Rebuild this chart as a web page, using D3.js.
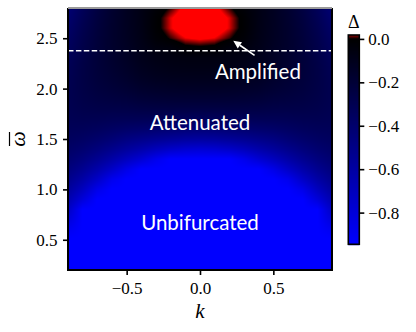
<!DOCTYPE html>
<html><head><meta charset="utf-8">
<script src="https://cdn.jsdelivr.net/npm/d3@7"></script>
<style>body{margin:0;background:#fff}svg{display:block}</style>
</head><body>
<svg id="chart" width="416" height="332"></svg>
<script>
// ---------------- data ----------------
const kValues = [-0.9,-0.8,-0.7,-0.6,-0.5,-0.4,-0.3,-0.2,-0.1,0,0.1,0.2,0.3,0.4,0.5,0.6,0.7,0.8,0.9];
const omegaValues = [0.2,0.3,0.4,0.5,0.6,0.7,0.8,0.9,1.0,1.1,1.2,1.3,1.4,1.5,1.6,1.7,1.8,1.9,2.0,2.1,2.2,2.3,2.4,2.5,2.6,2.7,2.8];
// Delta values, one row per omega (ascending), one column per k
const deltaRows = [
[-0.95,-0.95,-0.95,-0.95,-0.95,-0.95,-0.95,-0.95,-0.95,-0.95,-0.95,-0.95,-0.95,-0.95,-0.95,-0.95,-0.95,-0.95,-0.95],
[-0.95,-0.95,-0.95,-0.95,-0.95,-0.95,-0.95,-0.95,-0.95,-0.95,-0.95,-0.95,-0.95,-0.95,-0.95,-0.95,-0.95,-0.95,-0.95],
[-0.95,-0.95,-0.95,-0.95,-0.95,-0.95,-0.95,-0.95,-0.95,-0.95,-0.95,-0.95,-0.95,-0.95,-0.95,-0.95,-0.95,-0.95,-0.95],
[-0.95,-0.95,-0.95,-0.95,-0.95,-0.95,-0.95,-0.95,-0.95,-0.95,-0.95,-0.95,-0.95,-0.95,-0.95,-0.95,-0.95,-0.95,-0.95],
[-0.893,-0.95,-0.95,-0.95,-0.95,-0.95,-0.95,-0.95,-0.95,-0.95,-0.95,-0.95,-0.95,-0.95,-0.95,-0.95,-0.95,-0.95,-0.893],
[-0.808,-0.95,-0.95,-0.95,-0.95,-0.95,-0.95,-0.95,-0.95,-0.95,-0.95,-0.95,-0.95,-0.95,-0.95,-0.95,-0.95,-0.95,-0.808],
[-0.726,-0.95,-0.95,-0.95,-0.95,-0.95,-0.95,-0.95,-0.95,-0.95,-0.95,-0.95,-0.95,-0.95,-0.95,-0.95,-0.95,-0.95,-0.726],
[-0.648,-0.811,-0.95,-0.95,-0.95,-0.95,-0.95,-0.95,-0.95,-0.95,-0.95,-0.95,-0.95,-0.95,-0.95,-0.95,-0.95,-0.811,-0.648],
[-0.576,-0.706,-0.866,-0.95,-0.95,-0.95,-0.95,-0.95,-0.95,-0.95,-0.95,-0.95,-0.95,-0.95,-0.95,-0.95,-0.866,-0.706,-0.576],
[-0.513,-0.614,-0.738,-0.883,-0.95,-0.95,-0.95,-0.95,-0.95,-0.95,-0.95,-0.95,-0.95,-0.95,-0.95,-0.883,-0.738,-0.614,-0.513],
[-0.458,-0.534,-0.628,-0.738,-0.858,-0.95,-0.95,-0.95,-0.95,-0.95,-0.95,-0.95,-0.95,-0.95,-0.858,-0.738,-0.628,-0.534,-0.458],
[-0.412,-0.466,-0.535,-0.616,-0.704,-0.784,-0.88,-0.95,-0.95,-0.95,-0.95,-0.95,-0.88,-0.784,-0.704,-0.616,-0.535,-0.466,-0.412],
[-0.375,-0.41,-0.457,-0.514,-0.575,-0.63,-0.69,-0.74,-0.772,-0.784,-0.772,-0.74,-0.69,-0.63,-0.575,-0.514,-0.457,-0.41,-0.375],
[-0.345,-0.364,-0.394,-0.431,-0.475,-0.505,-0.535,-0.56,-0.58,-0.587,-0.58,-0.56,-0.535,-0.505,-0.475,-0.431,-0.394,-0.364,-0.345],
[-0.324,-0.328,-0.342,-0.364,-0.385,-0.398,-0.41,-0.422,-0.434,-0.439,-0.434,-0.422,-0.41,-0.398,-0.385,-0.364,-0.342,-0.328,-0.324],
[-0.308,-0.3,-0.302,-0.311,-0.315,-0.315,-0.32,-0.326,-0.332,-0.335,-0.332,-0.326,-0.32,-0.315,-0.315,-0.311,-0.302,-0.3,-0.308],
[-0.299,-0.28,-0.27,-0.268,-0.265,-0.255,-0.25,-0.248,-0.249,-0.25,-0.249,-0.248,-0.25,-0.255,-0.265,-0.268,-0.27,-0.28,-0.299],
[-0.296,-0.267,-0.247,-0.235,-0.225,-0.205,-0.196,-0.19,-0.188,-0.188,-0.188,-0.19,-0.196,-0.205,-0.225,-0.235,-0.247,-0.267,-0.296],
[-0.297,-0.259,-0.23,-0.21,-0.19,-0.165,-0.152,-0.144,-0.141,-0.14,-0.141,-0.144,-0.152,-0.165,-0.19,-0.21,-0.23,-0.259,-0.297],
[-0.303,-0.256,-0.219,-0.192,-0.165,-0.134,-0.117,-0.108,-0.105,-0.104,-0.105,-0.108,-0.117,-0.134,-0.165,-0.192,-0.219,-0.256,-0.303],
[-0.313,-0.257,-0.213,-0.179,-0.148,-0.113,-0.093,-0.082,-0.078,-0.077,-0.078,-0.082,-0.093,-0.113,-0.148,-0.179,-0.213,-0.257,-0.313],
[-0.326,-0.262,-0.21,-0.17,-0.135,-0.097,-0.075,-0.064,-0.059,-0.058,-0.059,-0.064,-0.075,-0.097,-0.135,-0.17,-0.21,-0.262,-0.326],
[-0.341,-0.27,-0.212,-0.165,-0.131,-0.088,-0.055,-0.045,-0.012,-0.008,-0.012,-0.045,-0.055,-0.088,-0.131,-0.165,-0.212,-0.27,-0.341],
[-0.36,-0.28,-0.216,-0.164,-0.124,-0.08,-0.025,0.006,0.028,0.035,0.028,0.006,-0.025,-0.08,-0.124,-0.164,-0.216,-0.28,-0.36],
[-0.381,-0.293,-0.222,-0.165,-0.121,-0.075,-0.012,0.026,0.052,0.06,0.052,0.026,-0.012,-0.075,-0.121,-0.165,-0.222,-0.293,-0.381],
[-0.404,-0.309,-0.23,-0.168,-0.119,-0.073,-0.012,0.026,0.052,0.06,0.052,0.026,-0.012,-0.073,-0.119,-0.168,-0.23,-0.309,-0.404],
[-0.429,-0.326,-0.241,-0.172,-0.119,-0.071,-0.025,0.006,0.038,0.045,0.038,0.006,-0.025,-0.071,-0.119,-0.172,-0.241,-0.326,-0.429]
];
const xTicks = [-0.5, 0, 0.5];
const yTicks = [0.5, 1.0, 1.5, 2.0, 2.5];
const cbTicks = [0, -0.2, -0.4, -0.6, -0.8];
const deltaMin = -0.946, deltaMax = 0.03, colorbarTop = 0.018;
const thresholdOmega = 2.375;
const regionLabels = ["Amplified", "Attenuated", "Unbifurcated"];
const regionK = [0.395, 0, 0];
const regionOmega = [2.1, 1.594, 0.6];
const arrowFrom = [0.372, 2.33];
const arrowTo = [0.227, 2.475];

// ---------------- layout ----------------
const svg = d3.select("#chart");
const plot = {left: 68, right: 332, top: 8, bottom: 270};
const cb = {left: 348.3, right: 359.3, top: 35, bottom: 244.3};
const serif = "'Liberation Serif', 'Times New Roman', 'DejaVu Serif', serif";

const x = d3.scaleLinear().domain(d3.extent(kValues)).range([plot.left, plot.right]);
const y = d3.scaleLinear().domain(d3.extent(omegaValues)).range([plot.bottom, plot.top]);
const color = d3.scaleLinear().domain([deltaMin, 0, deltaMax])
  .range(["#0000ff", "#000000", "#ff0000"]).clamp(true);

function sample(k, w) {
  let i = d3.bisectRight(kValues, k) - 1;
  i = Math.max(0, Math.min(kValues.length - 2, i));
  let j = d3.bisectRight(omegaValues, w) - 1;
  j = Math.max(0, Math.min(omegaValues.length - 2, j));
  const tx = Math.max(0, Math.min(1, (k - kValues[i]) / (kValues[i + 1] - kValues[i])));
  const ty = Math.max(0, Math.min(1, (w - omegaValues[j]) / (omegaValues[j + 1] - omegaValues[j])));
  const a = deltaRows[j][i] * (1 - tx) + deltaRows[j][i + 1] * tx;
  const b = deltaRows[j + 1][i] * (1 - tx) + deltaRows[j + 1][i + 1] * tx;
  return a * (1 - ty) + b * ty;
}

// heatmap image (smooth shading of the grid)
const pw = Math.round(plot.right - plot.left), ph = Math.round(plot.bottom - plot.top);
const canvas = document.createElement("canvas");
canvas.width = pw; canvas.height = ph;
const ctx = canvas.getContext("2d");
const img = ctx.createImageData(pw, ph);
for (let py = 0; py < ph; py++) {
  const w = y.invert(plot.top + py + 0.5);
  for (let px = 0; px < pw; px++) {
    const k = x.invert(plot.left + px + 0.5);
    const c = d3.rgb(color(sample(k, w)));
    const o = (py * pw + px) * 4;
    img.data[o] = c.r; img.data[o + 1] = c.g; img.data[o + 2] = c.b; img.data[o + 3] = 255;
  }
}
ctx.putImageData(img, 0, 0);
svg.append("image").attr("x", plot.left).attr("y", plot.top)
  .attr("width", pw).attr("height", ph)
  .attr("preserveAspectRatio", "none")
  .attr("href", canvas.toDataURL());

// threshold dashed line
svg.append("line")
  .attr("x1", x(kValues[0])).attr("x2", x(kValues[kValues.length - 1]))
  .attr("y1", y(thresholdOmega)).attr("y2", y(thresholdOmega))
  .attr("stroke", "#fff").attr("stroke-width", 1.5).attr("stroke-dasharray", "5.5,2.4");

// region labels
svg.selectAll("text.region").data(regionLabels).join("text")
  .attr("class", "region")
  .attr("x", (d, i) => x(regionK[i])).attr("y", (d, i) => y(regionOmega[i]))
  .attr("text-anchor", "middle")
  .style("font-family", "Lato, 'Open Sans', sans-serif")
  .attr("font-size", 20.5).attr("fill", "#fff").text(d => d);

// arrow
{
  const x0 = x(arrowFrom[0]), y0 = y(arrowFrom[1]);
  const x1 = x(arrowTo[0]), y1 = y(arrowTo[1]);
  const L = Math.hypot(x1 - x0, y1 - y0), ux = (x1 - x0) / L, uy = (y1 - y0) / L;
  const hl = 8, hw = 3.8;
  const bx = x1 - ux * hl, by = y1 - uy * hl;
  svg.append("line").attr("x1", x0).attr("y1", y0).attr("x2", bx).attr("y2", by)
    .attr("stroke", "#fff").attr("stroke-width", 1.6);
  svg.append("path")
    .attr("d", `M${x1},${y1}L${bx - uy * hw},${by + ux * hw}L${bx + uy * hw},${by - ux * hw}Z`)
    .attr("fill", "#fff");
}

// frame
svg.append("path")
  .attr("d", `M${plot.left},${plot.top}V${plot.bottom}H${plot.right}V${plot.top}`)
  .attr("fill", "none").attr("stroke", "#000").attr("stroke-width", 2);
svg.append("line").attr("x1", plot.left).attr("x2", plot.right)
  .attr("y1", plot.top).attr("y2", plot.top)
  .attr("stroke", "#9a9a9a").attr("stroke-width", 2);

// axes
const fmt = d3.format(".1f");
function styleAxis(g) {
  g.select(".domain").remove();
  g.selectAll(".tick line").attr("stroke", "#000").attr("stroke-width", 1.6);
  g.selectAll(".tick text").attr("fill", "#000")
    .style("font-family", serif).style("font-size", "17px");
}
svg.append("g").attr("transform", `translate(0,${plot.bottom})`)
  .call(d3.axisBottom(x).tickValues(xTicks).tickFormat(fmt).tickSize(5).tickPadding(7))
  .call(styleAxis);
svg.append("g").attr("transform", `translate(${plot.left},0)`)
  .call(d3.axisLeft(y).tickValues(yTicks).tickFormat(fmt).tickSize(5).tickPadding(5.5))
  .call(styleAxis);

// axis labels
svg.append("text").attr("x", x(0)).attr("y", 318)
  .attr("text-anchor", "middle").style("font-family", serif)
  .style("font-style", "italic").style("font-size", "21px").text("k");
{
  const g = svg.append("g").attr("transform", `translate(25,${(plot.top + plot.bottom) / 2}) rotate(-90)`);
  g.append("text").attr("x", 0).attr("y", 0).attr("text-anchor", "middle")
    .style("font-family", serif).style("font-style", "italic").style("font-size", "22px").text("ω");
  g.append("line").attr("x1", -7).attr("x2", 7).attr("y1", -15.5).attr("y2", -15.5)
    .attr("stroke", "#000").attr("stroke-width", 1.2);
}

// colorbar
const cbY = d3.scaleLinear().domain([deltaMin, colorbarTop]).range([cb.bottom, cb.top]);
const cbRows = d3.range(Math.floor(cb.top), Math.ceil(cb.bottom));
svg.append("g").selectAll("rect").data(cbRows).join("rect")
  .attr("x", cb.left).attr("width", cb.right - cb.left)
  .attr("y", d => d).attr("height", 1.2)
  .attr("fill", d => color(cbY.invert(d + 0.5)));
svg.append("rect").attr("x", cb.left).attr("y", cb.top)
  .attr("width", cb.right - cb.left).attr("height", cb.bottom - cb.top)
  .attr("fill", "none").attr("stroke", "#000").attr("stroke-width", 1.6);
svg.append("g").attr("transform", `translate(${cb.right},0)`)
  .call(d3.axisRight(cbY).tickValues(cbTicks).tickFormat(fmt).tickSize(5).tickPadding(4))
  .call(styleAxis);
svg.append("text").attr("x", (cb.left + cb.right) / 2).attr("y", 28)
  .attr("text-anchor", "middle").style("font-family", serif)
  .style("font-size", "18px").text("Δ");
</script>
</body></html>
